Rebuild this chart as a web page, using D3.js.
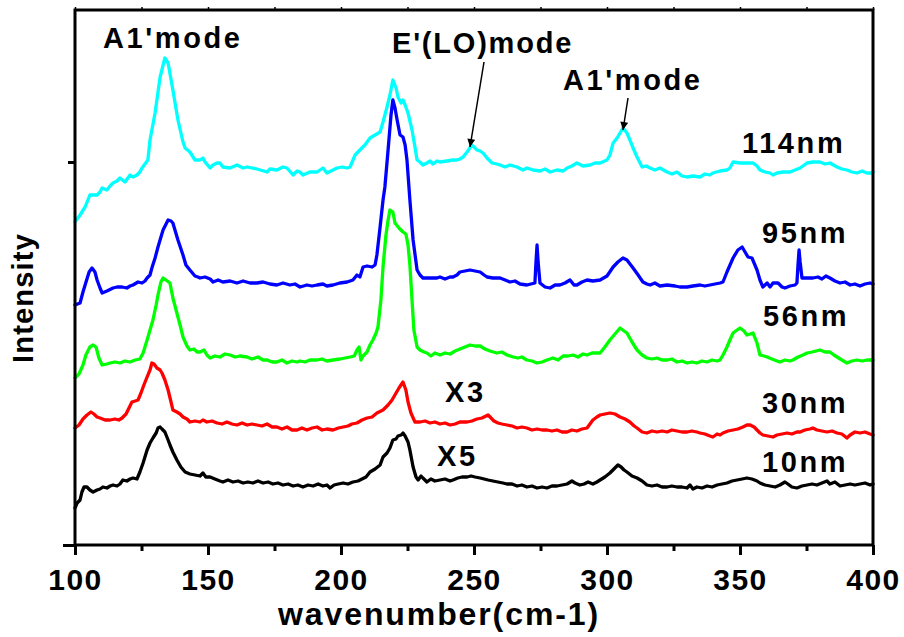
<!DOCTYPE html>
<html>
<head>
<meta charset="utf-8">
<script src="https://cdn.jsdelivr.net/npm/d3@7/dist/d3.min.js"></script>
<style>
  html, body { margin: 0; padding: 0; background: #fff; }
  svg { display: block; }
  text { font-family: "Liberation Sans", Arial, sans-serif; font-weight: bold; fill: #000; }
</style>
</head>
<body>
<svg id="chart" width="904" height="637"></svg>
<script>
// Raman spectra of samples with different particle sizes, stacked with offsets.
// Each series: [wavenumber (cm-1), intensity (a.u., offset included)]
const spec114nm = [
  [100,323],[101.9,330],[103.8,338],[105.6,350],[108.3,350],[109.4,353],[110.2,357],[112,355],[113.2,359],[114.3,362],
  [115.8,364],[116.9,367],[118.8,363],[120.7,370],[121.8,368],[123.3,370],[124.4,373],[125.2,377],[127.4,385],[128.2,405],
  [130.1,432],[132,468],[133.8,487],[135,482],[136.8,455],[138.7,425],[140.6,403],[141.4,397],[143.2,393],[145.1,385],
  [147,385],[148.1,387],[148.9,383],[150.8,377],[151.9,380],[153.4,382],[154.5,382],[155.6,378],[158.3,377],[160.9,380],
  [163.2,377],[164.7,378],[168.4,376],[172.2,373],[173.3,376],[175.9,375],[178.2,378],[179.7,377],[182,370],[183.5,374],
  [184.6,373],[185.7,370],[188.3,373],[191,373],[193.2,377],[194.7,372],[197,375],[198.5,377],[200.4,378],[202.3,377],
  [203.4,378],[205.3,390],[207.1,395],[209,400],[210.9,407],[212.8,410],[214.7,413],[215.8,423],[217.3,438],[218.4,450],
  [219.5,465],[220.7,457],[221.4,448],[222.6,442],[223.3,445],[224.1,440],[225.2,432],[226.7,415],[227.8,398],[228.6,385],
  [229.7,383],[230.8,380],[232.3,382],[233.5,384],[234.6,381],[236.1,384],[237.2,383],[239.8,384],[242.1,385],[243.6,385],
  [244.7,386],[245.9,388],[247.4,393],[249.2,400],[250.4,397],[251.1,395],[252.3,394],[253.4,392],[254.9,387],[256.8,382],
  [258.6,381],[259.8,380],[261.7,378],[263.5,380],[266.2,378],[268.4,375],[269.9,377],[272.2,375],[274.8,374],[276.7,376],
  [278.6,373],[281.2,375],[283.5,374],[285,377],[286.8,379],[288.7,382],[291,379],[293.6,380],[295.5,382],[297.4,382],
  [300,385],[301.1,390],[302.3,402],[303.8,407],[304.9,412],[306,417],[307.5,412],[308.6,405],[309.8,397],[311.3,388],
  [313.2,378],[314.7,379],[316.2,377],[318,375],[319.9,377],[322.6,373],[324.4,371],[326.3,373],[328.2,369],[330.1,368],
  [332.3,369],[335,368],[336.8,371],[338.7,370],[339.8,372],[342.5,374],[345.1,375],[346.2,377],[347.4,383],[350,382],
  [352.6,382],[354.9,382],[356.4,379],[357.5,375],[359.4,373],[361.3,372],[362.4,370],[363.9,372],[366.2,373],[368.8,373],
  [370.7,375],[372.6,377],[375.2,382],[377.4,383],[380,383],[382,381],[383.8,382],[386.5,378],[388.3,376],[390.2,375],
  [392.1,373],[394,372],[395.9,374],[397.7,372],[399.6,372],[400,373]
];
const spec95nm = [
  [100,240],[101.9,242],[103,253],[103.8,260],[105.3,273],[106.4,277],[107.5,273],[108.3,265],[109.4,257],[110.2,252],
  [112,254],[114.3,257],[115.8,258],[117.7,258],[119.5,257],[120.7,259],[121.8,260],[123.7,263],[125.2,262],[126.3,264],
  [127.1,267],[128.2,270],[128.9,277],[130.1,287],[131.2,298],[133.1,315],[135,325],[136.1,324],[136.8,322],[138.7,305],
  [140.6,290],[141.7,280],[143.2,275],[145.1,269],[146.2,268],[147,267],[148.9,268],[150.8,266],[151.9,263],[153.8,265],
  [155.6,263],[158.3,264],[160.9,262],[163.2,264],[165.8,262],[168.4,262],[170.7,263],[173.3,261],[175.9,260],[178.2,262],
  [180.8,260],[182.7,261],[184.6,258],[187.2,260],[189.1,259],[191,260],[193.2,261],[194.7,259],[197,260],[199.6,262],
  [202.3,263],[204.5,265],[206,270],[207.1,268],[208.3,278],[209.8,279],[211.7,278],[212.8,280],[213.5,290],[214.7,318],
  [215.8,345],[216.5,358],[217.7,395],[218.8,430],[219.5,445],[220.3,437],[221.1,425],[222.2,410],[223.3,408],[224.1,400],
  [224.8,385],[225.9,345],[227.1,305],[228.6,275],[229.7,270],[230.8,267],[233.5,267],[236.1,267],[237.2,268],[239.1,266],
  [241,268],[242.1,268],[243.6,270],[244.7,273],[246.6,274],[248.5,275],[250.4,274],[252.3,273],[253.8,270],[254.9,268],
  [257.1,267],[259.8,267],[261.7,265],[263.5,263],[265.4,264],[267.3,261],[269.9,260],[271.4,261],[272.9,262],[273.3,283],
  [273.7,300],[274.1,283],[274.8,262],[276.7,258],[278.6,257],[280.5,260],[282.3,260],[284.2,262],[286.1,265],[287.6,260],
  [288.7,260],[290.6,263],[292.5,265],[294.7,264],[297.4,265],[300,269],[302.3,278],[304.1,283],[306,287],[307.5,285],
  [309.8,277],[311.7,270],[313.5,263],[315,261],[316.2,260],[318,262],[319.9,259],[322.6,260],[325.6,259],[327.4,258],
  [330.1,258],[332.3,259],[335,260],[336.8,259],[338.7,260],[340.6,261],[342.5,262],[343.6,263],[345.1,273],[347.4,287],
  [349.2,295],[350.8,298],[351.9,293],[353,288],[354.5,287],[356.4,275],[357.5,265],[358.6,258],[360.2,262],[361.3,258],
  [362.4,262],[364.3,262],[365.8,258],[366.9,257],[368.8,259],[370.7,260],[371.4,262],[371.8,280],[372.2,295],[372.6,283],
  [373.3,267],[375.2,267],[377.4,267],[379.3,268],[380.8,266],[382.3,269],[383.8,267],[385.7,264],[387.6,262],[389.5,263],
  [391.4,260],[393.2,261],[395.1,259],[397,261],[398.9,262],[400,261]
];
const spec56nm = [
  [100,167],[101.5,171],[103,180],[104.1,190],[105.6,198],[106.8,200],[107.9,198],[109,187],[110.2,180],[112,181],
  [113.2,182],[115,183],[116.9,182],[118.8,184],[120.7,183],[122.6,185],[124.4,186],[125.6,192],[127.1,205],[128.2,215],
  [129.3,225],[130.5,240],[131.2,250],[132.3,263],[133.1,267],[134.2,265],[135.7,262],[136.8,247],[138.3,232],[139.5,220],
  [140.6,208],[142.1,199],[143.2,195],[144.7,196],[145.9,193],[147,193],[148.5,195],[149.6,190],[150.8,187],[152.6,189],
  [154.5,188],[156.4,191],[158.3,190],[160.2,188],[162,189],[164.7,188],[166.5,186],[168.8,188],[170.7,185],[172.2,185],
  [174.1,183],[175.9,183],[177.8,185],[179.7,182],[181.6,184],[183.5,183],[184.6,184],[186.5,183],[188.3,185],[191,185],
  [192.9,186],[194.7,184],[197,185],[199.6,186],[201.5,187],[203.4,188],[205,189],[206,195],[206.8,198],[207.5,185],
  [208.3,189],[209.8,193],[210.9,200],[212,205],[213.2,212],[213.9,218],[215,245],[215.8,278],[216.9,310],[217.7,325],
  [218.4,335],[219.5,333],[220.3,322],[221.8,317],[223.3,313],[224.4,311],[225.2,300],[225.9,280],[226.7,245],[227.4,215],
  [228.6,198],[229.7,195],[231.2,193],[232.3,192],[233.8,189],[235.3,192],[237.2,190],[239.1,192],[241,191],[242.9,194],
  [244.7,196],[246.6,198],[248.5,200],[250.4,199],[252.3,199],[254.1,196],[256,194],[258.6,192],[260.5,193],[262.4,190],
  [264.7,188],[266.5,187],[268,188],[269.9,185],[271.8,184],[273.7,182],[275.6,183],[277.4,185],[279.7,187],[281.6,185],
  [283.5,189],[285.3,189],[287.2,190],[289.1,188],[291,191],[292.5,190],[294.4,192],[297.4,192],[299.2,198],[301.1,205],
  [303,211],[304.9,217],[306.4,214],[307.5,212],[309.4,203],[311.3,195],[313.2,190],[315,187],[316.9,186],[318.8,187],
  [320.7,185],[322.6,185],[324.4,186],[326.3,183],[328.2,184],[330.1,182],[331.9,183],[333.8,182],[335.7,184],[337.6,183],
  [339.5,185],[341.4,184],[342.5,185],[343.6,190],[345.1,198],[346.2,205],[347.4,212],[348.9,215],[350,217],[351.5,214],
  [352.6,210],[353.8,211],[354.9,212],[356.4,202],[357.5,190],[359,189],[360.2,188],[362,186],[363.9,184],[365,183],
  [366.9,185],[368.8,184],[369.9,185],[371.8,188],[373.7,190],[375.2,192],[377.1,193],[378.6,194],[380,195],[382,193],
  [383.8,193],[385.3,190],[386.5,188],[388.3,185],[390.2,182],[392.1,184],[394,185],[395.9,184],[397.7,185],[400,185]
];
const spec30nm = [
  [100,117],[101.5,120],[103,126],[104.5,130],[106,133],[107.1,131],[108.3,128],[109.4,127],[111.3,125],[113.2,125],
  [115,126],[116.5,125],[117.7,127],[119.2,131],[120.3,137],[121.4,143],[122.6,144],[123.7,145],[124.8,152],[125.9,160],
  [127.1,168],[128.2,175],[128.9,182],[129.7,181],[130.8,177],[132,175],[132.7,172],[133.8,165],[135,155],[136.1,143],
  [136.8,135],[138.3,133],[139.5,131],[140.6,128],[142.1,126],[143.2,123],[145.1,124],[147,123],[148.1,125],[149.6,123],
  [151.5,124],[153.4,122],[155.3,121],[157.1,123],[159,121],[160.9,120],[162.8,122],[164.7,120],[166.5,121],[168.4,120],
  [170.3,119],[172.2,121],[174.1,118],[175.9,118],[177.8,116],[179.7,118],[181.6,115],[183.5,115],[185.3,117],[187.2,115],
  [189.1,117],[191,118],[192.9,115],[194.7,116],[197,115],[199,117],[200.8,118],[202.6,119],[204.1,121],[206,122],
  [207.9,125],[209.8,127],[211.7,128],[213.5,132],[215.8,135],[217.7,140],[219.2,145],[220.7,152],[221.8,157],[223.3,163],
  [224.4,155],[225.2,143],[226.3,132],[227.8,123],[229.7,123],[231.6,124],[233.5,122],[235.3,123],[237.2,121],[239.1,122],
  [241,120],[242.9,121],[244.7,123],[247.4,123],[249.2,124],[251.1,126],[253,127],[254.5,129],[255.3,130],[256.4,127],
  [257.5,124],[259,122],[260.5,121],[262.4,120],[264.3,119],[266.2,117],[268,118],[269.9,117],[271.8,115],[273.7,116],
  [275.6,115],[277.4,115],[279.3,114],[281.2,115],[283.1,113],[285,113],[286.8,115],[288.7,114],[290.6,116],[292.5,117],
  [293.6,121],[294.7,125],[296.2,128],[297.4,130],[299.2,131],[301.1,132],[303,131],[304.9,128],[306.8,126],[308.6,123],
  [310.2,119],[311.3,117],[313.2,113],[315,112],[316.9,114],[318.8,113],[320.7,114],[322.6,113],[324.4,115],[326.3,114],
  [328.2,113],[330.1,113],[331.9,114],[333.8,113],[335,112],[336.8,111],[338.7,109],[339.8,108],[341.4,111],[342.5,110],
  [343.6,112],[345.5,114],[347.4,115],[349.2,116],[351.1,118],[352.6,120],[353.8,120],[355.3,118],[356.4,115],[357.5,112],
  [358.6,110],[360.5,109],[362.4,108],[363.9,110],[365.8,111],[367.7,112],[369.5,111],[371.4,113],[372.6,113],[374.4,115],
  [376.3,116],[377.4,117],[378.9,115],[380.8,114],[382.7,113],[384.6,114],[386.5,112],[388.3,111],[390.2,107],[391.4,110],
  [393.2,113],[395.1,112],[397,113],[398.9,111],[400,110]
];
const spec10nm = [
  [100,37],[100.8,42],[101.9,45],[102.6,53],[103.4,58],[104.5,58],[105.6,55],[106.8,53],[108.3,55],[109.4,56],
  [110.5,58],[112,57],[113.2,59],[114.3,60],[115.8,59],[116.9,61],[118,65],[119.5,64],[120.7,66],[121.8,67],
  [123.3,66],[124.4,73],[125.6,82],[127.1,95],[128.2,102],[129.3,107],[130.5,112],[131.2,117],[132,118],[132.7,116],
  [133.8,113],[135,105],[135.7,100],[136.8,93],[138.3,85],[139.8,78],[141.4,73],[143.2,71],[145.1,70],[147,69],
  [148.1,72],[149.2,68],[150.8,68],[152.6,66],[154.5,64],[155.6,63],[157.5,65],[159.4,63],[161.3,64],[163.2,62],
  [165,63],[166.9,62],[168.8,64],[170.7,62],[172.6,63],[174.4,61],[176.3,62],[178.2,60],[180.1,61],[182,59],
  [183.8,60],[185.7,58],[187.6,60],[189.5,59],[191.4,61],[193.2,59],[194.7,60],[195.9,57],[197.4,60],[199,61],
  [200.8,62],[202.6,61],[204.5,63],[206.4,64],[207.9,66],[209.4,68],[210.9,73],[212.8,76],[214.7,80],[215.8,88],
  [217.3,92],[218.4,97],[219.5,105],[220.7,106],[221.4,109],[222.6,110],[223.3,112],[224.1,109],[225.2,103],[225.9,95],
  [227.1,78],[228.2,68],[229,65],[230.1,69],[230.8,67],[232.3,63],[233.8,66],[235.3,64],[237.2,65],[239.1,66],
  [241,64],[242.1,65],[243.9,67],[245.5,68],[247.4,68],[248.9,69],[250.4,68],[252.3,67],[253.8,66],[255.3,65],
  [257.1,64],[259,63],[260.9,62],[262.4,61],[264.3,61],[266.2,59],[268,60],[269.9,58],[271.8,59],[273.7,57],
  [275.6,58],[277.4,57],[279.3,59],[281.2,59],[283.1,60],[285,61],[286.8,64],[288,62],[289.8,60],[291.4,61],
  [292.9,63],[294.7,61],[296.2,63],[297.4,65],[299.2,68],[301.1,72],[302.6,76],[304.1,80],[305.3,78],[306.4,75],
  [307.5,73],[309.4,69],[311.3,67],[313.2,64],[315,60],[316.9,59],[318.8,60],[320.7,58],[322.6,58],[324.4,59],
  [326.3,58],[328.2,58],[330.1,57],[331.2,60],[332.3,56],[333.8,58],[335.7,57],[337.6,59],[339.5,58],[341.4,60],
  [343.2,61],[345.1,62],[347,64],[348.9,65],[350.8,66],[352.6,67],[354.5,66],[356.4,64],[357.5,62],[359.4,60],
  [361.3,59],[363.2,58],[365,60],[366.9,63],[368,61],[369.5,58],[371.4,57],[373.3,59],[375.2,60],[377.1,61],
  [378.9,60],[380.8,62],[382.7,64],[383.8,61],[385.7,63],[387.6,59],[389.5,60],[391.4,61],[393.2,60],[395.1,61],
  [397,62],[398.9,60],[400,61]
];

const seriesNames  = ["114nm", "95nm", "56nm", "30nm", "10nm"];
const seriesColors = ["#00ffff", "#0000ff", "#00ff00", "#ff0000", "#000000"];
const seriesData   = [spec114nm, spec95nm, spec56nm, spec30nm, spec10nm];

const xDomain = [100, 400];
const yDomain = [0, 535];
const xMajorTicks = [100, 150, 200, 250, 300, 350, 400];
const xMinorTicks = [125, 175, 225, 275, 325, 375];
const yMajorTicks = [0];
const yMinorTicks = [383];

const xTitle = "wavenumber(cm-1)";
const yTitle = "Intensity";

// ---- layout ----
const plot = { left: 75, right: 873, top: 10, bottom: 545 };
const svg = d3.select("#chart");

const x = d3.scaleLinear().domain(xDomain).range([plot.left, plot.right]);
const y = d3.scaleLinear().domain(yDomain).range([plot.bottom, plot.top]);

// spectra
const line = d3.line().x(d => x(d[0])).y(d => y(d[1]));
const order = [0, 1, 2, 3, 4];
svg.append("g").selectAll("path")
  .data(order)
  .join("path")
  .attr("d", i => line(seriesData[i]))
  .attr("fill", "none")
  .attr("stroke", i => seriesColors[i])
  .attr("stroke-width", 3.3)
  .attr("stroke-linejoin", "round")
  .attr("stroke-linecap", "round");

// bottom axis: major + minor ticks, outward
const xAxisMajor = d3.axisBottom(x).tickValues(xMajorTicks).tickSize(10).tickPadding(12).tickFormat(d3.format("d"));
const gx = svg.append("g").attr("transform", `translate(0,${plot.bottom})`).call(xAxisMajor);
gx.select(".domain").remove();
gx.selectAll(".tick line").attr("stroke", "#000").attr("stroke-width", 3);
gx.selectAll(".tick text")
  .attr("font-size", 30).attr("letter-spacing", "1.5px")
  .attr("font-family", '"Liberation Sans", Arial, sans-serif').attr("font-weight", "bold")
  .attr("dy", null).attr("y", 45);

const gxMinor = svg.append("g").attr("transform", `translate(0,${plot.bottom})`)
  .call(d3.axisBottom(x).tickValues(xMinorTicks).tickSize(6).tickFormat(""));
gxMinor.select(".domain").remove();
gxMinor.selectAll(".tick line").attr("stroke", "#000").attr("stroke-width", 3);

// top axis: short outward ticks
const gxTop = svg.append("g").attr("transform", `translate(0,${plot.top})`)
  .call(d3.axisTop(x).tickValues(xMajorTicks.concat(xMinorTicks)).tickSize(3).tickFormat(""));
gxTop.select(".domain").remove();
gxTop.selectAll(".tick line").attr("stroke", "#000").attr("stroke-width", 1.5);

// left axis ticks
const gyMajor = svg.append("g").attr("transform", `translate(${plot.left},0)`)
  .call(d3.axisLeft(y).tickValues(yMajorTicks).tickSize(12).tickFormat(""));
gyMajor.select(".domain").remove();
gyMajor.selectAll(".tick line").attr("stroke", "#000").attr("stroke-width", 3);
const gyMinor = svg.append("g").attr("transform", `translate(${plot.left},0)`)
  .call(d3.axisLeft(y).tickValues(yMinorTicks).tickSize(7).tickFormat(""));
gyMinor.select(".domain").remove();
gyMinor.selectAll(".tick line").attr("stroke", "#000").attr("stroke-width", 3);

// frame
svg.append("rect")
  .attr("x", plot.left).attr("y", plot.top)
  .attr("width", plot.right - plot.left).attr("height", plot.bottom - plot.top)
  .attr("fill", "none").attr("stroke", "#000").attr("stroke-width", 3);

// axis titles
svg.append("text").attr("x", 278).attr("y", 625)
  .attr("font-size", 32).attr("letter-spacing", "1.9px").text(xTitle);
svg.append("text")
  .attr("transform", "translate(33,298) rotate(-90)")
  .attr("text-anchor", "middle")
  .attr("font-size", 29).attr("letter-spacing", "1.2px").text(yTitle);

// series labels
const labelPos = [[742, 153], [762, 243], [763, 326], [762, 413], [762, 472]];
svg.append("g").selectAll("text")
  .data(seriesNames)
  .join("text")
  .attr("x", (d, i) => labelPos[i][0])
  .attr("y", (d, i) => labelPos[i][1])
  .attr("font-size", 29).attr("letter-spacing", "2.6px")
  .text(d => d);

// scale factors
svg.append("text").attr("x", 445).attr("y", 402).attr("font-size", 29).attr("letter-spacing", "2.6px").text("X3");
svg.append("text").attr("x", 437).attr("y", 466).attr("font-size", 29).attr("letter-spacing", "2.6px").text("X5");

// mode annotations
svg.append("text").attr("x", 103).attr("y", 48).attr("font-size", 29).attr("letter-spacing", "2.6px").text("A1'mode");
svg.append("text").attr("x", 392).attr("y", 53).attr("font-size", 29).attr("letter-spacing", "1.8px").text("E'(LO)mode");
svg.append("text").attr("x", 563).attr("y", 90).attr("font-size", 29).attr("letter-spacing", "2.6px").text("A1'mode");

// arrows
const defs = svg.append("defs");
defs.append("marker")
  .attr("id", "arrowhead")
  .attr("viewBox", "0 0 10 10")
  .attr("refX", 10).attr("refY", 5)
  .attr("markerWidth", 10).attr("markerHeight", 8)
  .attr("markerUnits", "userSpaceOnUse")
  .attr("orient", "auto")
  .append("path").attr("d", "M0,0 L10,5 L0,10 Z").attr("fill", "#000");

const arrows = [[484, 62, 470, 147], [628, 98, 623, 130]];
svg.append("g").selectAll("line")
  .data(arrows)
  .join("line")
  .attr("x1", d => d[0]).attr("y1", d => d[1])
  .attr("x2", d => d[2]).attr("y2", d => d[3])
  .attr("stroke", "#000").attr("stroke-width", 1.5)
  .attr("marker-end", "url(#arrowhead)");
</script>
</body>
</html>
